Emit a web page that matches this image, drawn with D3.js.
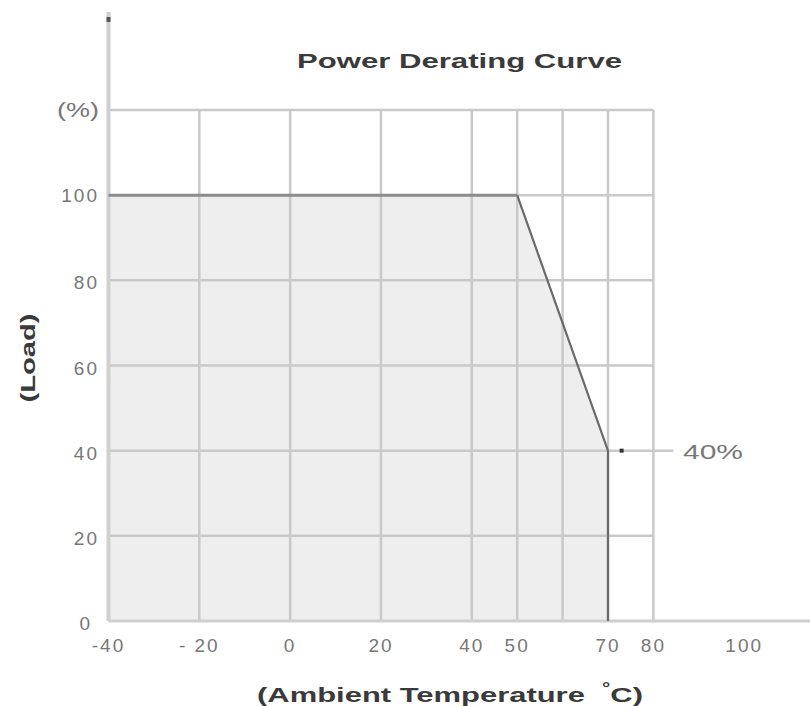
<!DOCTYPE html>
<html><head><meta charset="utf-8">
<script src="https://cdn.jsdelivr.net/npm/d3@7"></script>
<style>body{margin:0;background:#fff}svg{display:block}text{font-family:Arial,"Liberation Sans",sans-serif}</style>
</head><body>
<svg id="c" width="810" height="706"></svg>
<script>
const title = "Power Derating Curve";
const xTitle = "(Ambient Temperature  ";
const yTitle = "(Load)";
const yUnit = "(%)";
const xTickLabels = [-40, -20, 0, 20, 40, 50, 70, 80, 100];
const xGrid = [-40, -20, 0, 20, 40, 50, 60, 70, 80];
const yTicks = [0, 20, 40, 60, 80, 100];
const curveTemp = [-40, 50, 70, 70];
const curveLoad = [100, 100, 40, 0];
const markerLoad = 40;
const markerLabel = "40%";

const svg = d3.select("#c");
const x = d3.scaleLinear().domain([-40, 80]).range([108.5, 653.4]);
const y = d3.scaleLinear().domain([0, 120]).range([621, 110]);
const gridCol = "#c9c9c9";

const pts = curveTemp.map((t, i) => [t, curveLoad[i]]);
const areaPts = [[-40, 0]].concat(pts);
svg.append("path")
  .attr("d", d3.line().x(d => x(d[0])).y(d => y(d[1]))(areaPts) + "Z")
  .attr("fill", "#eeeeee");

svg.selectAll(".vg").data(xGrid.slice(1)).enter().append("line")
  .attr("x1", d => x(d)).attr("x2", d => x(d))
  .attr("y1", y(120)).attr("y2", y(0))
  .attr("stroke", gridCol).attr("stroke-width", 2.5);

svg.selectAll(".hg").data(yTicks.slice(1).concat([120])).enter().append("line")
  .attr("x1", x(-40)).attr("x2", d => d === markerLoad ? x(80) + 20 : x(80))
  .attr("y1", d => y(d)).attr("y2", d => y(d))
  .attr("stroke", gridCol).attr("stroke-width", 2.5);

svg.append("line").attr("x1", x(-40)).attr("x2", 810)
  .attr("y1", y(0)).attr("y2", y(0)).attr("stroke", "#cfcfcf").attr("stroke-width", 3);

svg.append("line").attr("x1", x(-40)).attr("x2", x(-40))
  .attr("y1", 12).attr("y2", y(0)).attr("stroke", "#d0d0d0").attr("stroke-width", 4);
svg.append("rect").attr("x", x(-40) - 2).attr("y", 17).attr("width", 4).attr("height", 5).attr("fill", "#555");

svg.append("path")
  .attr("d", d3.line().x(d => x(d[0])).y(d => y(d[1]))(pts.slice(1)))
  .attr("fill", "none").attr("stroke", "#6a6a6a").attr("stroke-width", 2.2);
svg.append("path")
  .attr("d", d3.line().x(d => x(d[0])).y(d => y(d[1]))(pts.slice(0, 2)))
  .attr("fill", "none").attr("stroke", "#8c8c8c").attr("stroke-width", 3);

svg.append("rect").attr("x", x(73) - 2).attr("y", y(markerLoad) - 2)
  .attr("width", 4).attr("height", 4).attr("fill", "#333");
svg.append("text").attr("x", 683).attr("y", y(markerLoad) + 8)
  .attr("font-size", 21).attr("fill", "#777").attr("textLength", 60)
  .attr("lengthAdjust", "spacingAndGlyphs").text(markerLabel);

svg.selectAll(".xt").data(xTickLabels).enter().append("text")
  .attr("x", d => x(d)).attr("y", 652).attr("text-anchor", "middle")
  .attr("font-size", 19).attr("fill", "#777").attr("letter-spacing", 2)
  .text(d => d === -20 ? "- 20" : d);

svg.selectAll(".yt").data(yTicks).enter().append("text")
  .attr("x", d => d === 0 ? 92 : 99).attr("y", d => y(d) + (d === 100 ? 7 : 9))
  .attr("text-anchor", "end")
  .attr("font-size", 19).attr("fill", "#777").attr("letter-spacing", 2)
  .text(d => d);
svg.append("text").attr("x", 57).attr("y", y(120) + 7)
  .attr("font-size", 20).attr("fill", "#777").attr("textLength", 42)
  .attr("lengthAdjust", "spacingAndGlyphs").text(yUnit);

svg.append("text").attr("x", 297).attr("y", 68)
  .attr("font-size", 21).attr("font-weight", "bold").attr("fill", "#3a3a3a")
  .attr("textLength", 325).attr("lengthAdjust", "spacingAndGlyphs").text(title);

const xt = svg.append("text").attr("x", 257).attr("y", 702)
  .attr("font-size", 21).attr("font-weight", "bold").attr("fill", "#3a3a3a")
  .attr("xml:space", "preserve").style("white-space", "pre");
xt.append("tspan").text(xTitle);
xt.append("tspan").attr("dy", -9).attr("font-size", 14).text("°");
xt.append("tspan").attr("dy", 9).text("C)");
xt.attr("textLength", 386).attr("lengthAdjust", "spacingAndGlyphs");

svg.append("text").attr("transform", "translate(35,358) rotate(-90)")
  .attr("text-anchor", "middle").attr("font-size", 21).attr("font-weight", "bold")
  .attr("fill", "#3a3a3a").attr("textLength", 89).attr("lengthAdjust", "spacingAndGlyphs")
  .text(yTitle);
</script>
</body></html>
